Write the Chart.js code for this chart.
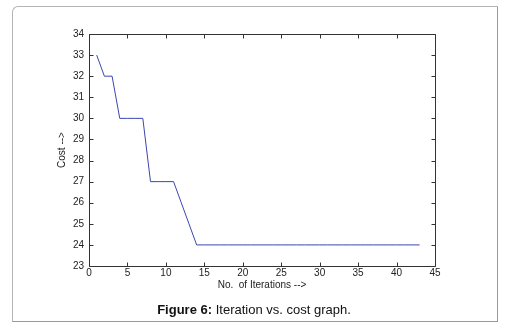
<!DOCTYPE html>
<html lang="en">
<head>
    <meta charset="UTF-8">
    <title>Iteration vs. cost graph</title>
    <script src="https://cdn.jsdelivr.net/npm/chart.js@4.4.1/dist/chart.umd.min.js"></script>
    <style type="text/css">
        body{
            margin: 0;
            background: #fff;
            font-family: "Liberation Sans", Arial, sans-serif;
        }
        #frame{
            position: absolute;
            left: 12px; top: 6px;
            width: 484px; height: 314px;
            border: 1px solid #b4b4b4;
            border-right-color: #9a9a9a;
            border-bottom-color: #9a9a9a;
            border-top-left-radius: 6px;
        }
        #caption{
            position: absolute;
            left: 0; top: 302px;
            width: 508px;
            text-align: center;
            font-size: 13px;
            color: #111;
        }
        #chartCanvas{
            position: absolute;
            left: 0; top: 0;
        }
    </style>
</head>
<body>
    <div id="frame"></div>
    <canvas id="chartCanvas" width="511" height="328"></canvas>
    <div id="caption"><b>Figure 6:</b> Iteration vs. cost graph.</div>

    <script type="text/javascript">
        // values
        var iterations = [1, 2, 3, 4, 5, 6, 7, 8, 9, 10,
                          11, 12, 13, 14, 15, 16, 17, 18, 19, 20,
                          21, 22, 23, 24, 25, 26, 27, 28, 29, 30,
                          31, 32, 33, 34, 35, 36, 37, 38, 39, 40,
                          41, 42, 43];
        var costs = [33, 32, 32, 30, 30, 30, 30, 27, 27, 27,
                     27, 26, 25, 24, 24, 24, 24, 24, 24, 24,
                     24, 24, 24, 24, 24, 24, 24, 24, 24, 24,
                     24, 24, 24, 24, 24, 24, 24, 24, 24, 24,
                     24, 24, 24];
        var xTicks = [0, 5, 10, 15, 20, 25, 30, 35, 40, 45];
        var yTicks = [23, 24, 25, 26, 27, 28, 29, 30, 31, 32, 33, 34];

        var points = iterations.map(function(it, i){ return {x: it, y: costs[i]}; });

        // matlab style box with inward ticks on every side
        var boxPlugin = {
            id: 'matlabBox',
            afterDraw: function(chart){
                var ctx = chart.ctx, a = chart.chartArea;
                var sx = chart.scales.x, sy = chart.scales.y;
                var L = Math.round(a.left) + 0.5, R = Math.round(a.right) + 0.5;
                var T = Math.round(a.top) + 0.5, B = Math.round(a.bottom) + 0.5;
                var len = 4;
                ctx.save();
                ctx.strokeStyle = '#333';
                ctx.lineWidth = 1;
                ctx.beginPath();
                ctx.rect(L, T, R - L, B - T);
                xTicks.forEach(function(v){
                    var px = Math.round(sx.getPixelForValue(v)) + 0.5;
                    ctx.moveTo(px, B); ctx.lineTo(px, B - len);
                    ctx.moveTo(px, T); ctx.lineTo(px, T + len);
                });
                yTicks.forEach(function(v){
                    var py = Math.round(sy.getPixelForValue(v)) + 0.5;
                    ctx.moveTo(L, py); ctx.lineTo(L + len, py);
                    ctx.moveTo(R, py); ctx.lineTo(R - len, py);
                });
                ctx.stroke();
                ctx.restore();
            }
        };

        var font = {family: '"Liberation Sans", Arial, sans-serif', size: 10};

        var ctx = document.getElementById("chartCanvas");
        var myChart = new Chart(ctx, {
            type: 'line',
            data: {
                datasets: [{
                    data: points,
                    borderColor: '#3b45b0',
                    borderWidth: 1,
                    pointRadius: 0,
                    tension: 0,
                    fill: false
                }]
            },
            options: {
                responsive: false,
                animation: false,
                devicePixelRatio: 1,
                layout: { padding: {left: 56, right: 76, top: 34, bottom: 37} },
                plugins: {
                    legend: { display: false },
                    tooltip: { enabled: false }
                },
                scales: {
                    x: {
                        type: 'linear',
                        min: 0, max: 45,
                        afterBuildTicks: function(s){ s.ticks = xTicks.map(function(v){ return {value: v}; }); },
                        afterFit: function(s){ s.height = 25; },
                        grid: { display: false, drawTicks: false },
                        border: { display: false },
                        ticks: { font: font, color: '#222', padding: 1, maxRotation: 0 },
                        title: { display: true, text: 'No.  of Iterations -->', font: font, color: '#222', padding: 0 }
                    },
                    y: {
                        min: 23, max: 34,
                        afterBuildTicks: function(s){ s.ticks = yTicks.map(function(v){ return {value: v}; }); },
                        afterFit: function(s){ s.width = 33; },
                        grid: { display: false, drawTicks: false },
                        border: { display: false },
                        ticks: { font: font, color: '#222', padding: 5 },
                        title: { display: true, text: 'Cost -->', font: font, color: '#222', padding: 0 }
                    }
                }
            },
            plugins: [boxPlugin]
        });
    </script>
</body>
</html>
